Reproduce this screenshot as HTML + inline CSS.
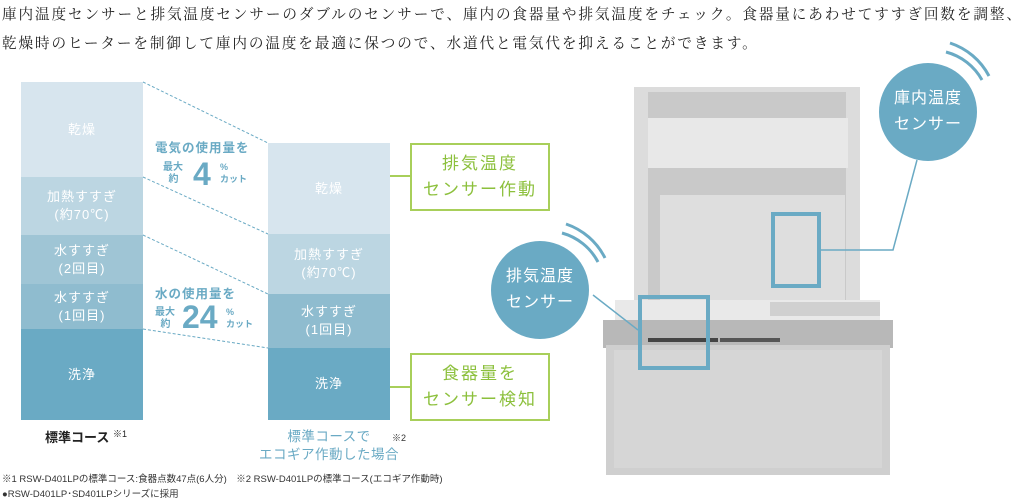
<!DOCTYPE html>
<html><head><meta charset="utf-8"><style>
body{margin:0;width:1035px;height:503px;background:#fff;position:relative;overflow:hidden;font-family:"Liberation Sans","Noto Sans CJK JP",sans-serif}
.a{position:absolute}
.hd{font-family:"Liberation Serif","Noto Serif CJK JP",serif;font-size:14.6px;letter-spacing:1.9px;color:#222;white-space:nowrap;left:2px}
.seg{position:absolute;display:flex;align-items:center;justify-content:center;text-align:center;color:#fff;font-size:13px;line-height:18px;letter-spacing:1px}
.gb{position:absolute;border:2px solid #a8cf5a;color:#8cc03c;font-size:17px;line-height:26px;text-align:center;letter-spacing:2px;display:flex;align-items:center;justify-content:center;background:#fff}
.circ{position:absolute;border-radius:50%;background:#6aaac4;color:#fff;font-size:16px;line-height:26px;text-align:center;display:flex;align-items:center;justify-content:center;letter-spacing:1px}
.bl{color:#6aaac4;font-weight:bold;white-space:nowrap}
</style></head><body>
<div class="a hd" style="top:3px">庫内温度センサーと排気温度センサーのダブルのセンサーで、庫内の食器量や排気温度をチェック。食器量にあわせてすすぎ回数を調整、</div>
<div class="a hd" style="top:32px">乾燥時のヒーターを制御して庫内の温度を最適に保つので、水道代と電気代を抑えることができます。</div>

<svg class="a" style="left:0;top:0" width="1035" height="503">
<g stroke="#6aaac4" stroke-width="1" stroke-dasharray="3,2" fill="none">
<line x1="143" y1="82" x2="268" y2="143"/>
<line x1="143" y1="177" x2="268" y2="234"/>
<line x1="143" y1="235" x2="268" y2="294"/>
<line x1="143" y1="329" x2="268" y2="348"/>
</g>
<g stroke="#a8cf5a" stroke-width="2">
<line x1="370" y1="176" x2="411" y2="176"/>
<line x1="370" y1="387" x2="411" y2="387"/>
</g>
<circle cx="370" cy="176" r="3.5" fill="#a8cf5a"/>
<circle cx="370" cy="387" r="3.5" fill="#a8cf5a"/>
<!-- dishwasher -->
<rect x="634" y="87" width="226" height="235" fill="#dcdcdc"/>
<rect x="648" y="92" width="198" height="225" fill="#c9c9c9"/>
<rect x="648" y="118" width="200" height="50" fill="#e8e8e8"/>
<rect x="660" y="195" width="185" height="110" fill="#dedede"/>
<rect x="615" y="300" width="265" height="25" fill="#e9e9e9"/>
<rect x="603" y="320" width="290" height="28" fill="#b8b8b8"/>
<rect x="606" y="345" width="284" height="130" fill="#cfcfcf"/>
<rect x="614" y="350" width="268" height="118" fill="#d6d6d6"/>
<rect x="648" y="338" width="70" height="4" fill="#444"/>
<rect x="720" y="338" width="60" height="4" fill="#555"/>
<rect x="770" y="302" width="110" height="14" fill="#d0d0d0"/>
<g fill="none" stroke="#6aaac4" stroke-width="4">
<rect x="640" y="297" width="68" height="71"/>
<rect x="773" y="214" width="46" height="72"/>
</g>
<g fill="none" stroke="#6aaac4" stroke-width="1.5">
<polyline points="593,295 638,330"/>
<polyline points="917,160 893,250 821,250"/>
</g>
<g fill="none" stroke="#6aaac4" stroke-width="3">
<path d="M562,233 A58,58 0 0 1 598,262"/>
<path d="M566,224 A68,68 0 0 1 605,258"/>
<path d="M946,52 A58,58 0 0 1 982,80"/>
<path d="M950,43 A68,68 0 0 1 989,76"/>
</g>
</svg>

<!-- left column -->
<div class="seg" style="left:21px;top:82px;width:122px;height:95px;background:#d7e5ee">乾燥</div>
<div class="seg" style="left:21px;top:177px;width:122px;height:58px;background:#bcd6e2">加熱すすぎ<br>(約70℃)</div>
<div class="seg" style="left:21px;top:235px;width:122px;height:49px;background:#9fc5d5">水すすぎ<br>(2回目)</div>
<div class="seg" style="left:21px;top:284px;width:122px;height:45px;background:#8fbccf">水すすぎ<br>(1回目)</div>
<div class="seg" style="left:21px;top:329px;width:122px;height:91px;background:#6aaac4">洗浄</div>
<!-- right column -->
<div class="seg" style="left:268px;top:143px;width:122px;height:91px;background:#d7e5ee">乾燥</div>
<div class="seg" style="left:268px;top:234px;width:122px;height:60px;background:#bcd6e2">加熱すすぎ<br>(約70℃)</div>
<div class="seg" style="left:268px;top:294px;width:122px;height:54px;background:#8fbccf">水すすぎ<br>(1回目)</div>
<div class="seg" style="left:268px;top:348px;width:122px;height:72px;background:#6aaac4">洗浄</div>

<div class="a bl" style="left:155px;top:140px;font-size:12.5px;line-height:16px;letter-spacing:1px">電気の使用量を</div>
<div class="a bl" style="left:163px;top:162px;font-size:10px;line-height:12px">最大<br>&nbsp;&nbsp;約</div>
<div class="a bl" style="left:193px;top:158px;font-size:32px;line-height:32px">4</div>
<div class="a bl" style="left:220px;top:161px;font-size:9px;line-height:12px">%<br>カット</div>
<div class="a bl" style="left:155px;top:286px;font-size:12.5px;line-height:16px;letter-spacing:1px">水の使用量を</div>
<div class="a bl" style="left:155px;top:307px;font-size:10px;line-height:12px">最大<br>&nbsp;&nbsp;約</div>
<div class="a bl" style="left:182px;top:301px;font-size:32px;line-height:32px">24</div>
<div class="a bl" style="left:226px;top:306px;font-size:9px;line-height:12px">%<br>カット</div>

<div class="gb" style="left:410px;top:143px;width:136px;height:64px">排気温度<br>センサー作動</div>
<div class="gb" style="left:410px;top:353px;width:136px;height:64px">食器量を<br>センサー検知</div>

<div class="a" style="left:45px;top:427px;font-size:13px;font-weight:bold;color:#222">標準コース <span style="font-size:9px;font-weight:normal;vertical-align:top">※1</span></div>
<div class="a" style="left:243px;top:428px;font-size:13.5px;color:#6aaac4;text-align:center;width:172px;line-height:18px;letter-spacing:0.5px">標準コースで<br>エコギア作動した場合</div>
<div class="a" style="left:392px;top:431px;font-size:9px;color:#333">※2</div>
<div class="a" style="left:2px;top:471px;font-size:9.5px;color:#333;white-space:nowrap">※1 RSW-D401LPの標準コース:食器点数47点(6人分)　※2 RSW-D401LPの標準コース(エコギア作動時)</div>
<div class="a" style="left:2px;top:486px;font-size:9.5px;color:#333;white-space:nowrap">●RSW-D401LP･SD401LPシリーズに採用</div>

<div class="circ" style="left:491px;top:241px;width:98px;height:98px">排気温度<br>センサー</div>
<div class="circ" style="left:879px;top:63px;width:98px;height:98px">庫内温度<br>センサー</div>
</body></html>
